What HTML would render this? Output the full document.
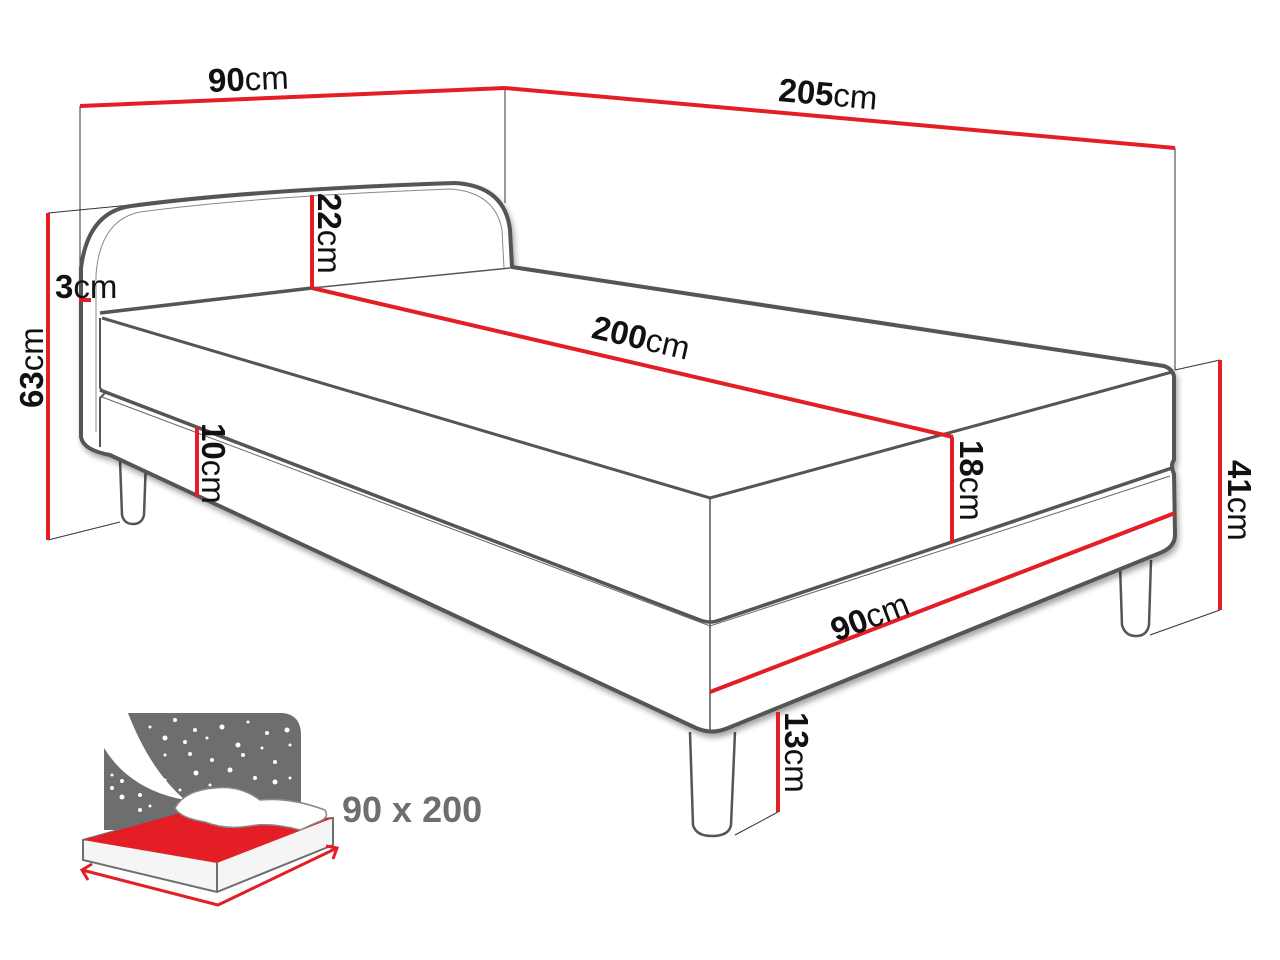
<!DOCTYPE html>
<html><head><meta charset="utf-8"><style>
html,body{margin:0;padding:0;background:#fff;width:1280px;height:960px;overflow:hidden}
svg{display:block}
text{font-family:"Liberation Sans",sans-serif;font-size:33px;fill:#111}
.b{font-weight:bold}
</style></head><body>
<svg width="1280" height="960" viewBox="0 0 1280 960" xmlns="http://www.w3.org/2000/svg">
<defs>
<filter id="sh" x="-5%" y="-5%" width="110%" height="115%"><feGaussianBlur in="SourceAlpha" stdDeviation="3"/><feOffset dx="2" dy="4"/><feComponentTransfer><feFuncA type="linear" slope="0.35"/></feComponentTransfer><feMerge><feMergeNode/><feMergeNode in="SourceGraphic"/></feMerge></filter>
</defs>
<g stroke="#333" stroke-width="1" fill="none">
<line x1="80" y1="106" x2="80" y2="268"/>
<line x1="505" y1="88" x2="505" y2="203"/>
<line x1="1175" y1="148" x2="1175" y2="370"/>
<line x1="48" y1="213" x2="130" y2="205"/>
<line x1="48" y1="540" x2="120" y2="522"/>
<line x1="1175" y1="370" x2="1220" y2="360"/>
<line x1="1150" y1="635" x2="1220" y2="610"/>
<line x1="735" y1="835" x2="778" y2="812"/>
</g>
<g stroke="#555" stroke-width="2.5" fill="#fff">
<path d="M120 460 L122 515 Q124 524 133 524 Q142 524 144 515 L146 460"/>
<path d="M690 732 L693 825 Q696 836 712 836 Q729 836 731 825 L735 732"/>
<path d="M1120 565 L1122 625 Q1125 636 1136 636 Q1147 636 1149 625 L1151 560"/>
</g>
<g filter="url(#sh)">
<path d="M81 437 L81 268 Q88 212 131 206 Q250 190 455 183 Q505 186 510 230 L512 267 L1164 366 Q1175 370 1174 380 L1174 460 Q1170 465 1174 474 L1175 535 Q1175 547 1160 553 L728 728 Q712 735 696 728 L110 455 Q83 450 81 437 Z" fill="#fff" stroke="#555" stroke-width="4" stroke-linejoin="round"/>
</g>
<g fill="none" stroke="#555">
<path d="M96 432 L96 275 Q100 220 140 212 Q250 197 450 189 Q495 192 502 230 L504 268" stroke-width="1" stroke="#888"/>
<path d="M312 288 L510 268" stroke-width="1.5"/>
<path d="M100 313 L312 288" stroke-width="3.5"/>
<path d="M100 318 L100 388 L105 393 L100 398 L100 447" stroke-width="2"/>
<path d="M102 318 L710 498 L1172 372" stroke-width="3"/>
<path d="M100 390 L700 620 Q710 624 720 620 L1172 468" stroke-width="3.5"/>
<path d="M102 397 L710 626 L1170 476" stroke-width="1" stroke="#666"/>
<line x1="710" y1="498" x2="710" y2="730" stroke-width="1.5"/>
</g>
<g stroke="#e31e24" stroke-width="4" fill="none">
<line x1="80" y1="106" x2="505" y2="88"/>
<line x1="505" y1="88" x2="1175" y2="148"/>
<line x1="48" y1="213" x2="48" y2="540"/>
<line x1="79" y1="300" x2="91" y2="300"/>
<line x1="312" y1="195" x2="312" y2="288"/>
<line x1="312" y1="288" x2="953" y2="437"/>
<line x1="952" y1="437" x2="952" y2="543"/>
<line x1="197" y1="427" x2="197" y2="497"/>
<line x1="710" y1="692" x2="1175" y2="513"/>
<line x1="1220" y1="360" x2="1220" y2="610"/>
<line x1="778" y1="712" x2="778" y2="812"/>
</g>
<text x="208" y="90" transform="rotate(-2.5 255 80)"><tspan class="b">90</tspan>cm</text>
<text x="778" y="106" transform="rotate(5 835 100)"><tspan class="b">205</tspan>cm</text>
<text x="55" y="298"><tspan class="b">3</tspan>cm</text>
<text x="590" y="350" transform="rotate(13 645 345)"><tspan class="b">200</tspan>cm</text>
<text x="828" y="626" transform="rotate(-21 875 612)"><tspan class="b">90</tspan>cm</text>
<text x="0" y="0" transform="translate(43 408) rotate(-90)"><tspan class="b">63</tspan>cm</text>
<text x="0" y="0" transform="translate(318 193) rotate(90)"><tspan class="b">22</tspan>cm</text>
<text x="0" y="0" transform="translate(202 423) rotate(90)"><tspan class="b">10</tspan>cm</text>
<text x="0" y="0" transform="translate(960 440) rotate(90)"><tspan class="b">18</tspan>cm</text>
<text x="0" y="0" transform="translate(1228 460) rotate(90)"><tspan class="b">41</tspan>cm</text>
<text x="0" y="0" transform="translate(785 712) rotate(90)"><tspan class="b">13</tspan>cm</text>
<g>
<path d="M128 713 L283 713 Q301 715 301 735 L301 830 L104 830 L104 748 Q130 790 185 800 Q150 770 128 713 Z" fill="#6d6e70"/>
<g fill="#fff">
<circle cx="150" cy="727" r="1.5"/><circle cx="175" cy="720" r="2"/><circle cx="195" cy="730" r="2"/><circle cx="222" cy="727" r="2.5"/><circle cx="248" cy="722" r="1.5"/><circle cx="267" cy="733" r="2"/><circle cx="287" cy="730" r="2.5"/>
<circle cx="165" cy="738" r="2.5"/><circle cx="185" cy="742" r="2"/><circle cx="207" cy="738" r="1.5"/><circle cx="238" cy="745" r="2.5"/><circle cx="262" cy="748" r="1.5"/><circle cx="290" cy="745" r="1.5"/>
<circle cx="165" cy="755" r="1.5"/><circle cx="190" cy="754" r="2"/><circle cx="212" cy="760" r="2"/><circle cx="243" cy="755" r="2"/><circle cx="275" cy="762" r="2"/><circle cx="230" cy="770" r="2.5"/><circle cx="196" cy="773" r="2.5"/><circle cx="255" cy="778" r="2"/><circle cx="275" cy="782" r="2.5"/><circle cx="290" cy="778" r="1.5"/>
<circle cx="112" cy="775" r="1.5"/><circle cx="122" cy="781" r="2"/><circle cx="112" cy="788" r="2"/><circle cx="122" cy="797" r="2.5"/><circle cx="140" cy="795" r="2"/><circle cx="150" cy="806" r="1.5"/><circle cx="140" cy="810" r="2"/><circle cx="165" cy="780" r="1.5"/><circle cx="180" cy="790" r="1.5"/><circle cx="210" cy="785" r="1.5"/>
</g>
<path d="M83 840 L180 813 Q250 825 333 818 L333 845 L217 892 L83 860 Z" fill="#f5f5f5" stroke="#6d6e70" stroke-width="2"/>
<path d="M83 840 L180 813 Q250 825 333 818 L217 863 Z" fill="#e31e24"/>
<line x1="217" y1="863" x2="217" y2="892" stroke="#6d6e70" stroke-width="2"/>
<path d="M175 808 Q185 790 215 788 Q240 785 260 800 Q290 797 325 810 Q330 818 318 822 L300 830 Q270 822 250 826 Q225 830 205 822 Q180 818 175 808 Z" fill="#fff" stroke="#888" stroke-width="1.5"/>
<g stroke="#e31e24" stroke-width="3" fill="none">
<path d="M82 870 L218 905 L337 848"/>
<path d="M92 864 L82 870 L88 880"/>
<path d="M326 846 L337 848 L333 859"/>
</g>
<text x="342" y="822" style="font-size:36px;font-weight:bold;fill:#6d6e70">90 x 200</text>
</g>
</svg>
</body></html>
